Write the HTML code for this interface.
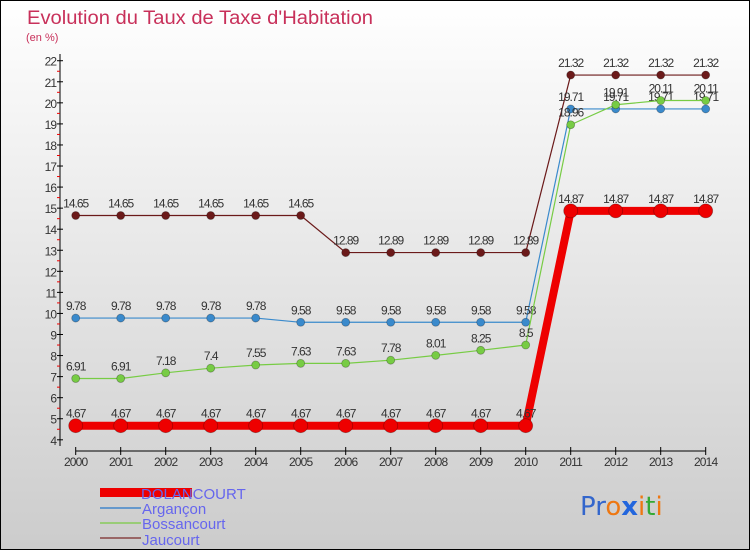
<!DOCTYPE html>
<html><head><meta charset="utf-8"><style>
body{margin:0;}
svg{display:block;font-family:"Liberation Sans",sans-serif;}
</style></head><body>
<svg id="c" width="750" height="550" viewBox="0 0 750 550">
<defs><linearGradient id="bg" x1="0" y1="0" x2="0" y2="1"><stop offset="0" stop-color="#ffffff"/><stop offset="1" stop-color="#cccccc"/></linearGradient></defs>
<rect x="0.5" y="0.5" width="749" height="549" fill="url(#bg)" stroke="#000"/>
<text x="27" y="24" font-size="19" fill="#c8305a" textLength="346" lengthAdjust="spacingAndGlyphs">Evolution du Taux de Taxe d'Habitation</text>
<text x="26" y="41" font-size="11" fill="#c8305a">(en %)</text>
<g id="axes"></g>
<g id="series"></g>
<g id="legend">
<rect x="100" y="488" width="92" height="9" fill="#ee0000"/>
<text x="141" y="499" font-size="15" fill="#6666ee" transform="translate(0,0)"><tspan x="141">DOLANCOURT</tspan></text>
<line x1="100" y1="508" x2="141" y2="508" stroke="#6699cc" stroke-width="2"/>
<text x="142" y="514" font-size="15" fill="#6666ee">Argançon</text>
<line x1="100" y1="523" x2="141" y2="523" stroke="#99cc77" stroke-width="2"/>
<text x="142" y="529" font-size="15" fill="#6666ee">Bossancourt</text>
<line x1="100" y1="538" x2="141" y2="538" stroke="#996666" stroke-width="2"/>
<text x="142" y="545" font-size="15" fill="#6666ee">Jaucourt</text>
</g>
<g font-size="26" font-family="'DejaVu Sans',sans-serif">
<text x="580" y="515"><tspan fill="#3366cc">Pr</tspan><tspan fill="#ee7711">o</tspan><tspan fill="#2266dd" font-weight="bold">x</tspan><tspan fill="#ee7711">i</tspan><tspan fill="#33aa33">t</tspan><tspan fill="#ee7711">i</tspan></text>
</g>
</svg>
<script>
const years=[2000,2001,2002,2003,2004,2005,2006,2007,2008,2009,2010,2011,2012,2013,2014];
const dolancourt=[4.67,4.67,4.67,4.67,4.67,4.67,4.67,4.67,4.67,4.67,4.67,14.87,14.87,14.87,14.87];
const argancon=[9.78,9.78,9.78,9.78,9.78,9.58,9.58,9.58,9.58,9.58,9.58,19.71,19.71,19.71,19.71];
const bossancourt=[6.91,6.91,7.18,7.4,7.55,7.63,7.63,7.78,8.01,8.25,8.5,18.96,19.91,20.11,20.11];
const jaucourt=[14.65,14.65,14.65,14.65,14.65,14.65,12.89,12.89,12.89,12.89,12.89,21.32,21.32,21.32,21.32];
const yTicks=[4,5,6,7,8,9,10,11,12,13,14,15,16,17,18,19,20,21,22];
const NS="http://www.w3.org/2000/svg";
const X=i=>75.7+i*45;
const Y=v=>439.8-(v-4)*21.06;
function mk(t,a,p){const e=document.createElementNS(NS,t);for(const k in a)e.setAttribute(k,a[k]);p.appendChild(e);return e;}
const ax=document.getElementById('axes');
mk('line',{x1:60,y1:54,x2:60,y2:446,stroke:'#000'},ax);
mk('line',{x1:X(0),y1:451,x2:X(14),y2:451,stroke:'#000'},ax);
yTicks.forEach(v=>{
 mk('line',{x1:57,y1:Y(v),x2:63,y2:Y(v),stroke:'#000'},ax);
 const t=mk('text',{x:56,y:Y(v)+5,'font-size':12,fill:'#333','text-anchor':'end','letter-spacing':'-1'},ax);
 t.textContent=v;
 
 
 if(v<22) mk('line',{x1:57,y1:Y(v+0.5),x2:60,y2:Y(v+0.5),stroke:'#ee0000'},ax);
});
years.forEach((yr,i)=>{
 mk('line',{x1:X(i),y1:447,x2:X(i),y2:455,stroke:'#000'},ax);
 const t=mk('text',{x:X(i),y:466,'font-size':12,fill:'#333','text-anchor':'middle','letter-spacing':'-0.8'},ax);
 t.textContent=yr;
 
 
});
const sg=document.getElementById('series');
function draw(vals,name,color,w,r){
 const g=mk('g',{},sg);
 
 
 mk('polyline',{points:vals.map((v,i)=>X(i)+','+Y(v)).join(' '),fill:'none',stroke:color,'stroke-width':w,'stroke-linejoin':'round'},g);
 vals.forEach((v,i)=>{
  const c=mk('circle',{cx:X(i),cy:Y(v),r:r,fill:color,stroke:'rgba(0,0,0,0.3)','stroke-width':0.8},g);
  
  
  const t=mk('text',{x:X(i),y:Y(v)-8,'font-size':12,fill:'#333','text-anchor':'middle','letter-spacing':'-1'},g);
  t.textContent=String(v);
  
  
 });
}
draw(jaucourt,'jaucourt','#6b1a1a',1.2,4);
draw(argancon,'argancon','#3a8acc',1.2,4);
draw(bossancourt,'bossancourt','#77cc44',1.2,4);
draw(dolancourt,'dolancourt','#ee0000',8,7);
</script>
</body></html>
